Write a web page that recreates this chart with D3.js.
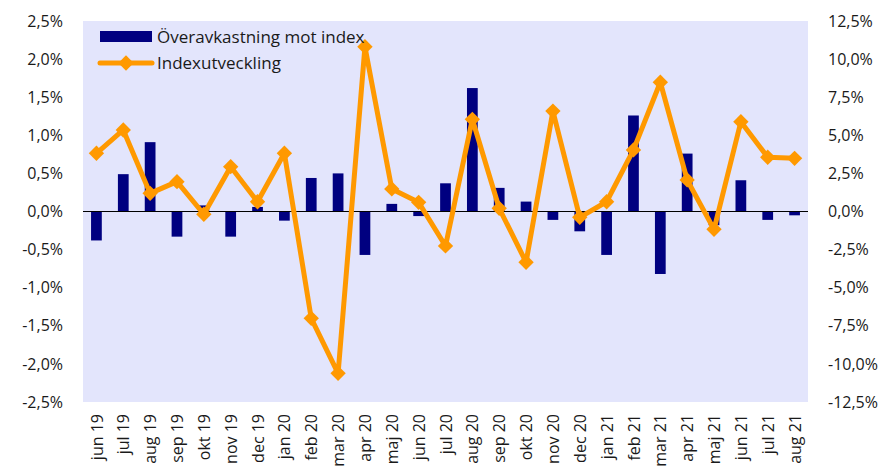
<!DOCTYPE html>
<html>
<head>
<meta charset="utf-8">
<script src="https://cdn.jsdelivr.net/npm/d3@7"></script>
<style>
  body { margin: 0; background: #fff; }
  text { font-family: "Open Sans", sans-serif; fill: #1a1a1a; }
</style>
</head>
<body>
<div id="chart"></div>
<script>
const months = ['jun 19','jul 19','aug 19','sep 19','okt 19','nov 19','dec 19','jan 20','feb 20','mar 20',
  'apr 20','maj 20','jun 20','jul 20','aug 20','sep 20','okt 20','nov 20','dec 20','jan 21','feb 21',
  'mar 21','apr 21','maj 21','jun 21','jul 21','aug 21'];
// överavkastning mot index (%), left axis
const excess = [-0.38, 0.49, 0.91, -0.33, 0.08, -0.33, 0.06, -0.12, 0.44, 0.50,
  -0.57, 0.10, -0.06, 0.37, 1.62, 0.31, 0.13, -0.11, -0.26, -0.57, 1.26,
  -0.82, 0.76, -0.18, 0.41, -0.11, -0.05];
// indexutveckling (%), right axis
const indexChg = [3.82, 5.35, 1.19, 1.96, -0.18, 2.94, 0.64, 3.82, -7.01, -10.62,
  10.81, 1.48, 0.60, -2.26, 6.05, 0.21, -3.33, 6.59, -0.38, 0.64, 4.04,
  8.48, 2.07, -1.17, 5.89, 3.56, 3.49];
const leftTicks = [-2.5, -2, -1.5, -1, -0.5, 0, 0.5, 1, 1.5, 2, 2.5];
const rightTicks = [-12.5, -10, -7.5, -5, -2.5, 0, 2.5, 5, 7.5, 10, 12.5];

const W = 889, H = 473;
const m = { top: 21, right: 81, bottom: 71, left: 83 };
const w = W - m.left - m.right, h = H - m.top - m.bottom;

const svg = d3.select('#chart').append('svg').attr('width', W).attr('height', H);
const g = svg.append('g').attr('transform', `translate(${m.left},${m.top})`);

const x = d3.scaleBand().domain(months).range([0, w]).paddingInner(0.6).paddingOuter(0.3);
const xc = d3.scalePoint().domain(months).range([0, w]).padding(0.5);
const yL = d3.scaleLinear().domain([-2.5, 2.5]).range([h, 0]);
const yR = d3.scaleLinear().domain([-12.5, 12.5]).range([h, 0]);
const fmt = d => d3.format('.1f')(d).replace('.', ',').replace('−', '-') + '%';

g.append('rect').attr('width', w).attr('height', h).attr('fill', '#e3e5fc');

// bars
g.selectAll('rect.bar')
  .data(excess)
  .enter()
  .append('rect')
  .attr('class', 'bar')
  .attr('x', (d, i) => xc(months[i]) - x.bandwidth() / 2)
  .attr('width', x.bandwidth())
  .attr('y', d => yL(Math.max(0, d)))
  .attr('height', d => Math.abs(yL(d) - yL(0)))
  .attr('fill', '#000080');

// zero line
g.append('line').attr('x1', 0).attr('x2', w).attr('y1', yL(0)).attr('y2', yL(0))
  .attr('stroke', '#000').attr('stroke-width', 1);

// line
const line = d3.line().x((d, i) => xc(months[i])).y(d => yR(d));
g.append('path').datum(indexChg).attr('d', line)
  .attr('fill', 'none').attr('stroke', '#ff9900').attr('stroke-width', 5).attr('stroke-linejoin', 'round');
const diamond = d3.symbol().type(d3.symbolDiamond2).size(150);
g.selectAll('path.mk')
  .data(indexChg)
  .enter()
  .append('path')
  .attr('class', 'mk')
  .attr('d', diamond)
  .attr('transform', (d, i) => `translate(${xc(months[i])},${yR(d)})`)
  .attr('fill', '#ff9900');

// axes
const axL = g.append('g').call(d3.axisLeft(yL).tickValues(leftTicks).tickFormat(fmt).tickSize(0).tickPadding(20));
const axR = g.append('g').attr('transform', `translate(${w},0)`)
  .call(d3.axisRight(yR).tickValues(rightTicks).tickFormat(fmt).tickSize(0).tickPadding(20));
const axB = g.append('g').attr('transform', `translate(0,${h})`)
  .call(d3.axisBottom(xc).tickSize(0).tickPadding(0));
[axL, axR, axB].forEach(a => a.select('.domain').remove());
axL.selectAll('text').style('font-size', '16px').style('font-family', '"Open Sans", sans-serif').attr('fill', '#1a1a1a');
axR.selectAll('text').style('font-size', '16px').style('font-family', '"Open Sans", sans-serif').attr('fill', '#1a1a1a');
axB.selectAll('text')
  .style('font-size', '16px').style('font-family', '"Open Sans", sans-serif').attr('fill', '#1a1a1a')
  .attr('transform', 'rotate(-90)')
  .attr('text-anchor', 'end')
  .attr('x', -12).attr('y', 0).attr('dy', '0.35em');

// legend
const lg = g.append('g').attr('transform', 'translate(17,10)');
lg.append('rect').attr('x', 0).attr('y', 0).attr('width', 52).attr('height', 11).attr('fill', '#000080');
lg.append('text').attr('x', 57).attr('y', 6).attr('dy', '0.35em').style('font-size', '17px').text('Överavkastning mot index');
lg.append('line').attr('x1', 0).attr('x2', 52).attr('y1', 32).attr('y2', 32)
  .attr('stroke', '#ff9900').attr('stroke-width', 5).attr('stroke-linecap', 'round');
lg.append('path').attr('d', diamond).attr('transform', 'translate(26,32)').attr('fill', '#ff9900');
lg.append('text').attr('x', 57).attr('y', 32).attr('dy', '0.35em').style('font-size', '17px').text('Indexutveckling');
</script>
</body>
</html>
